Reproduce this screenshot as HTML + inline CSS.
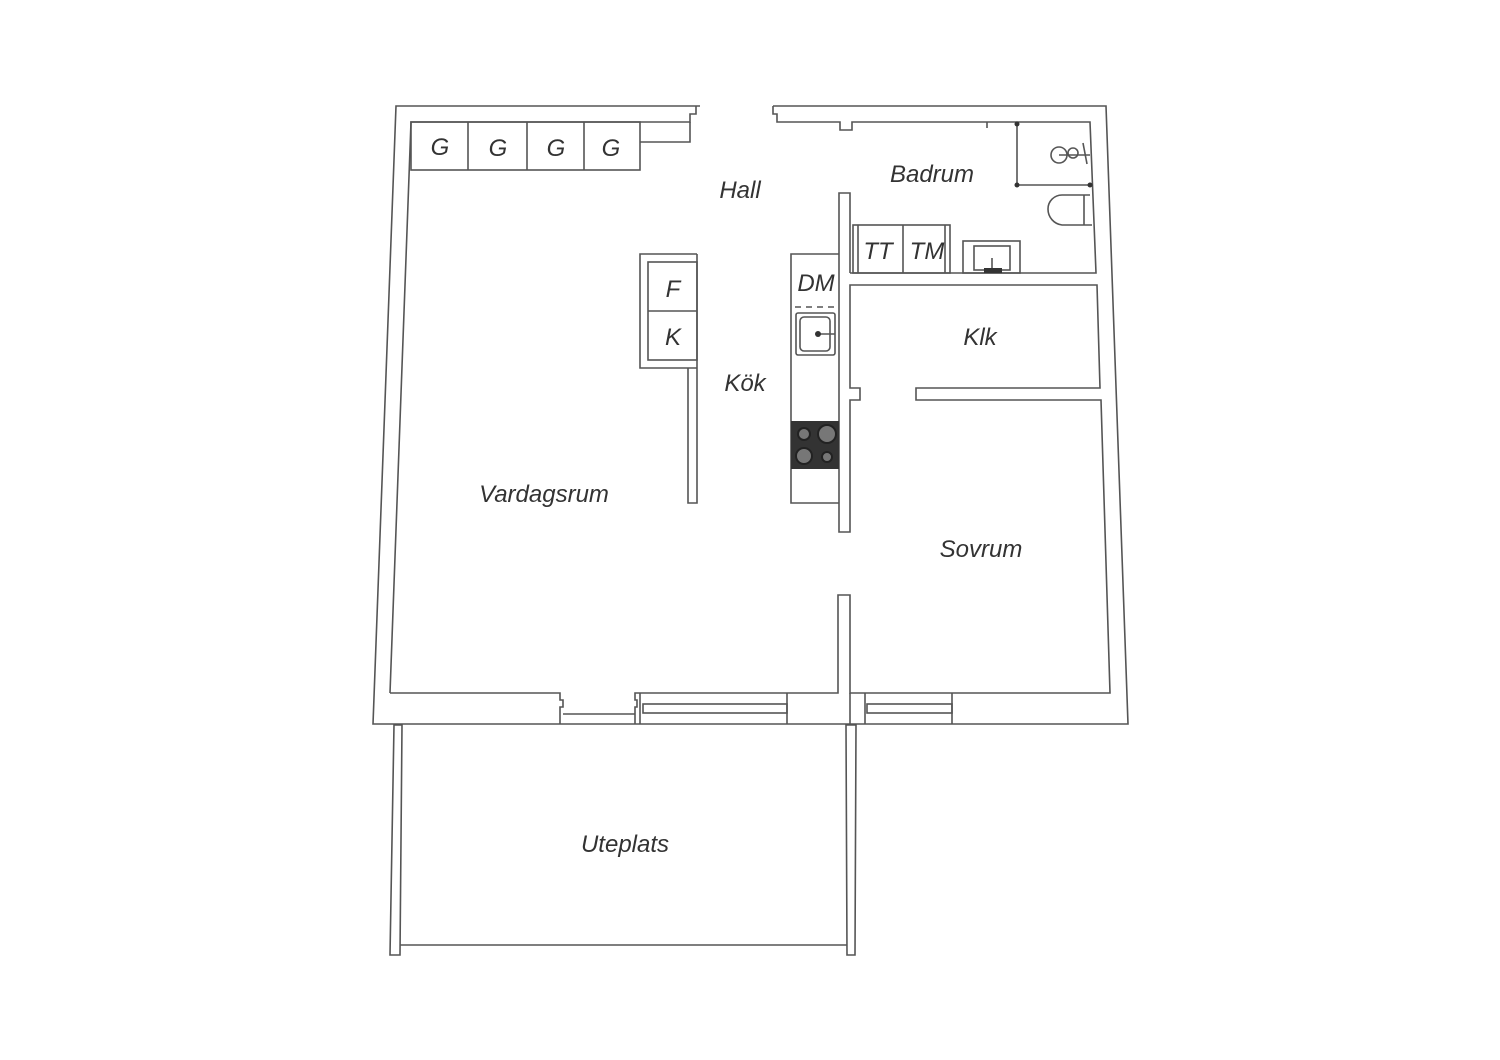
<!DOCTYPE html>
<html><head><meta charset="utf-8"><style>
html,body{margin:0;padding:0;background:#fff;}
svg{display:block}
text{font-family:"Liberation Sans",sans-serif;font-style:italic;fill:#333;font-size:24px;text-anchor:middle}
</style></head><body>
<svg width="1500" height="1060" viewBox="0 0 1500 1060" xmlns="http://www.w3.org/2000/svg">
<g fill="none" stroke="#555" stroke-width="1.6" stroke-linejoin="miter">
<!-- outer wall -->
<polyline points="700,106 396,106 373,724 1128,724 1106,106 773,106"/>
<!-- inner top left with step -->
<polyline points="390,693 411,122 690,122 690,114 696,114 696,106"/>
<polyline points="773,106 773,114 777,114 777,122 840,122 840,130 852,130 852,122 1090,122 1096,273 960,273"/>
<!-- G boxes -->
<rect x="411" y="122" width="229" height="48"/>
<line x1="468" y1="122" x2="468" y2="170"/><line x1="527" y1="122" x2="527" y2="170"/><line x1="584" y1="122" x2="584" y2="170"/>
<polyline points="640,142 690,142 690,122"/>
<!-- kitchen wall -->
<polyline points="850,273 850,193 839,193 839,532 850,532 850,400 860,400 860,388 850,388 850,285 1097,285 1100,388 916,388 916,400 1101,400 1110,693 850,693 850,595 838,595 838,693 640,693"/>
<line x1="850" y1="273" x2="960" y2="273"/>
<!-- bottom left inner -->
<polyline points="390,693 560,693 560,700 563,700 563,707 560,707 560,724"/>
<line x1="563" y1="714" x2="635" y2="714"/>
<polyline points="635,724 635,707 637,707 637,700 635,700 635,693 640,693"/>
<line x1="640" y1="693" x2="640" y2="724"/>
<rect x="643" y="704" width="144" height="9"/>
<line x1="787" y1="693" x2="787" y2="724"/>
<line x1="850" y1="693" x2="850" y2="724"/>
<line x1="865" y1="693" x2="865" y2="724"/>
<rect x="867" y="704" width="85" height="9"/>
<line x1="952" y1="693" x2="952" y2="724"/>
<!-- uteplats -->
<polygon points="394,725 402,725 400,955 390,955"/>
<polygon points="846,725 856,725 855,955 847,955"/>
<line x1="400" y1="945" x2="847" y2="945"/>
<!-- F/K -->
<polyline points="697,254 640,254 640,368 697,368"/>
<rect x="648" y="262" width="49" height="98"/>
<line x1="648" y1="311" x2="697" y2="311"/>
<polyline points="688,368 688,503 697,503 697,254"/>
<!-- kitchen counter -->
<polyline points="839,254 791,254 791,503 839,503"/>
<line x1="795" y1="307" x2="836" y2="307" stroke-dasharray="6,5"/>
<rect x="796" y="313" width="39" height="42" rx="2"/>
<rect x="800" y="317" width="30" height="34" rx="4"/>
<line x1="818" y1="334" x2="835" y2="334"/>
<!-- TT TM -->
<rect x="853" y="225" width="97" height="48"/>
<line x1="858" y1="225" x2="858" y2="273"/>
<line x1="903" y1="225" x2="903" y2="273"/>
<line x1="945" y1="225" x2="945" y2="273"/>
<!-- sink -->
<rect x="963" y="241" width="57" height="32"/>
<rect x="974" y="246" width="36" height="24"/>
<line x1="992" y1="258" x2="992" y2="270"/>
<!-- shower -->
<line x1="1017" y1="122" x2="1017" y2="185"/>
<line x1="1017" y1="185" x2="1090" y2="185"/>
<circle cx="1059" cy="155" r="8"/>
<circle cx="1073" cy="153" r="5"/>
<line x1="1059" y1="155" x2="1090" y2="155"/>
<line x1="1083" y1="143" x2="1087" y2="164"/>
<!-- toilet -->
<path d="M1090,195 L1062,195 A14,14 0 0 0 1048,209 A16,16 0 0 0 1062,225 L1092,225"/>
<line x1="1084" y1="195" x2="1084" y2="225"/>
<line x1="987" y1="122" x2="987" y2="128"/>
</g>
<g fill="#333">
<circle cx="818" cy="334" r="3"/>
<circle cx="1017" cy="124" r="2.5"/><circle cx="1017" cy="185" r="2.5"/><circle cx="1090" cy="185" r="2.5"/>
<rect x="984" y="268" width="18" height="5"/>
<rect x="791" y="421" width="48" height="48"/>
</g>
<g fill="#777" stroke="#222" stroke-width="2">
<circle cx="804" cy="434" r="6"/><circle cx="827" cy="434" r="9"/>
<circle cx="804" cy="456" r="8"/><circle cx="827" cy="457" r="5"/>
</g>
<text x="440" y="155">G</text><text x="498" y="156">G</text><text x="556" y="156">G</text><text x="611" y="156">G</text>
<text x="740" y="198">Hall</text>
<text x="932" y="182">Badrum</text>
<text x="673" y="297">F</text><text x="673" y="345">K</text>
<text x="816" y="291">DM</text>
<text x="878" y="259">TT</text><text x="927" y="259">TM</text>
<text x="980" y="345">Klk</text>
<text x="745" y="391">Kök</text>
<text x="544" y="502">Vardagsrum</text>
<text x="981" y="557">Sovrum</text>
<text x="625" y="852">Uteplats</text>
</svg>
</body></html>
